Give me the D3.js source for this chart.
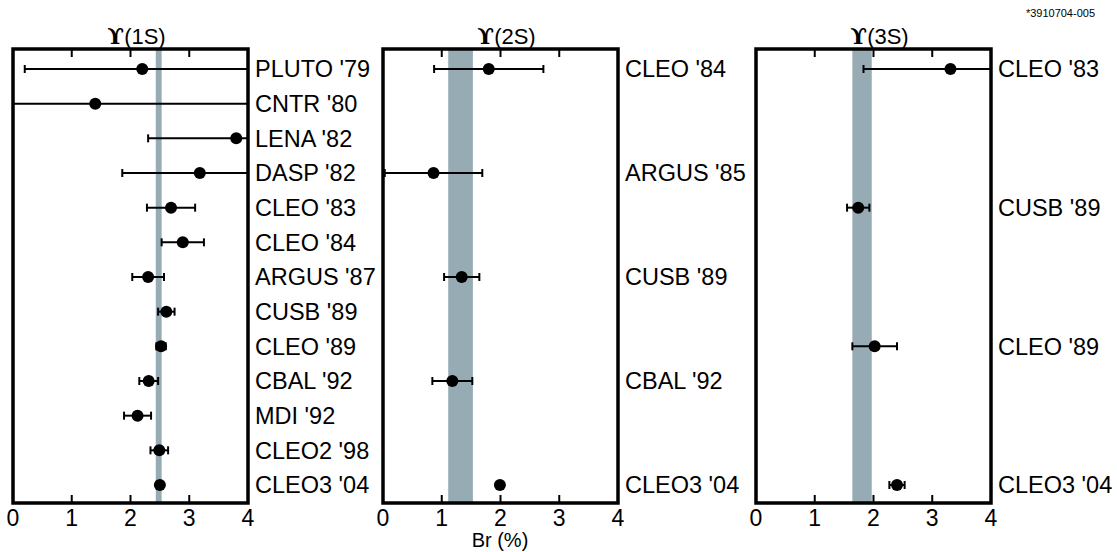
<!DOCTYPE html>
<html>
<head>
<meta charset="utf-8">
<script src="https://cdn.jsdelivr.net/npm/d3@7"></script>
<style>
  body { margin: 0; background: #fff; }
  text { font-family: "Liberation Sans", Arial, sans-serif; }
</style>
</head>
<body>
<div id="chart"></div>
<script>
// panel titles and the world-average bands (Br in %)
var titles = ["(1S)", "(2S)", "(3S)"];
var bandLow = [2.43, 1.11, 1.64];
var bandHigh = [2.53, 1.53, 1.97];
var xTicks = [0, 1, 2, 3, 4];

// Y(1S) measurements
var labels1S = ["PLUTO '79", "CNTR '80", "LENA '82", "DASP '82", "CLEO '83", "CLEO '84", "ARGUS '87",
                "CUSB '89", "CLEO '89", "CBAL '92", "MDI '92", "CLEO2 '98", "CLEO3 '04"];
var rows1S = [0, 1, 2, 3, 4, 5, 6, 7, 8, 9, 10, 11, 12];
var values1S = [2.2, 1.4, 3.8, 3.18, 2.69, 2.89, 2.3, 2.61, 2.52, 2.31, 2.12, 2.49, 2.5];
var errors1S = [2.0, 3.0, 1.5, 1.32, 0.41, 0.36, 0.27, 0.14, 0.08, 0.16, 0.23, 0.15, 0.04];

// Y(2S) measurements
var labels2S = ["CLEO '84", "ARGUS '85", "CUSB '89", "CBAL '92", "CLEO3 '04"];
var rows2S = [0, 3, 6, 9, 12];
var values2S = [1.8, 0.86, 1.34, 1.18, 1.99];
var errors2S = [0.93, 0.83, 0.3, 0.34, 0.03];

// Y(3S) measurements
var labels3S = ["CLEO '83", "CUSB '89", "CLEO '89", "CLEO3 '04"];
var rows3S = [0, 4, 8, 12];
var values3S = [3.31, 1.74, 2.02, 2.4];
var errors3S = [1.48, 0.19, 0.38, 0.13];

var width = 1117, height = 552;
var panelLeft = [13, 383, 756], panelW = 235;
var frameTop = 49, frameBottom = 503;

var svg = d3.select("#chart").append("svg")
    .attr("width", width)
    .attr("height", height);

var y = d3.scalePoint()
    .domain(d3.range(13))
    .range([69, 485]);

var sets = [
  {labels: labels1S, rows: rows1S, values: values1S, errors: errors1S},
  {labels: labels2S, rows: rows2S, values: values2S, errors: errors2S},
  {labels: labels3S, rows: rows3S, values: values3S, errors: errors3S}
];

sets.forEach(function(s, p){
  var x = d3.scaleLinear().domain([0, 4]).range([panelLeft[p], panelLeft[p] + panelW]);
  var g = svg.append("g");

  g.append("clipPath").attr("id", "clip" + p)
    .append("rect")
      .attr("x", x(0)).attr("y", frameTop)
      .attr("width", panelW).attr("height", frameBottom - frameTop);

  var inner = g.append("g").attr("clip-path", "url(#clip" + p + ")");

  // average band
  inner.append("rect")
    .attr("x", x(bandLow[p]))
    .attr("y", frameTop)
    .attr("width", x(bandHigh[p]) - x(bandLow[p]))
    .attr("height", frameBottom - frameTop)
    .attr("fill", "#96abb3");

  var pts = s.values.map(function(v, i){
    return {label: s.labels[i], row: s.rows[i], v: v, e: s.errors[i]};
  });

  // error bars
  inner.append("g").selectAll("line").data(pts).join("line")
    .attr("x1", d => x(d.v - d.e)).attr("x2", d => x(d.v + d.e))
    .attr("y1", d => y(d.row)).attr("y2", d => y(d.row))
    .attr("stroke", "#000").attr("stroke-width", 2);

  // caps
  inner.append("g").selectAll("line").data(pts).join("line")
    .attr("x1", d => x(d.v - d.e)).attr("x2", d => x(d.v - d.e))
    .attr("y1", d => y(d.row) - 4).attr("y2", d => y(d.row) + 4)
    .attr("stroke", "#000").attr("stroke-width", 2);
  inner.append("g").selectAll("line").data(pts).join("line")
    .attr("x1", d => x(d.v + d.e)).attr("x2", d => x(d.v + d.e))
    .attr("y1", d => y(d.row) - 4).attr("y2", d => y(d.row) + 4)
    .attr("stroke", "#000").attr("stroke-width", 2);

  inner.append("g").selectAll("circle").data(pts).join("circle")
    .attr("cx", d => x(d.v)).attr("cy", d => y(d.row))
    .attr("r", 6).attr("fill", "#000");

  // ticks, bottom and top, pointing inward
  g.append("g").selectAll("line").data(xTicks.slice(1, 4)).join("line")
    .attr("x1", d => x(d)).attr("x2", d => x(d))
    .attr("y1", frameBottom).attr("y2", frameBottom - 8)
    .attr("stroke", "#000").attr("stroke-width", 2);
  g.append("g").selectAll("line").data(xTicks.slice(1, 4)).join("line")
    .attr("x1", d => x(d)).attr("x2", d => x(d))
    .attr("y1", frameTop).attr("y2", frameTop + 8)
    .attr("stroke", "#000").attr("stroke-width", 2);

  // frame
  g.append("rect")
    .attr("x", x(0)).attr("y", frameTop)
    .attr("width", panelW).attr("height", frameBottom - frameTop)
    .attr("fill", "none").attr("stroke", "#000").attr("stroke-width", 3.5);

  // tick labels
  g.append("g").selectAll("text").data(xTicks).join("text")
    .attr("x", d => x(d)).attr("y", 526)
    .attr("text-anchor", "middle")
    .attr("font-size", 23)
    .text(d => d);

  // experiment labels
  g.append("g").selectAll("text").data(pts).join("text")
    .attr("x", x(4) + 7).attr("y", d => y(d.row))
    .attr("dy", "0.36em")
    .attr("font-size", 23.5)
    .text(d => d.label);

  // title
  var t = g.append("text")
    .attr("x", (x(0) + x(4)) / 2 + 6).attr("y", 44)
    .attr("text-anchor", "middle")
    .attr("font-size", 22);
  t.append("tspan").attr("font-family", "DejaVu Serif").attr("font-weight", "bold").text("\u03D2");
  t.append("tspan").text(titles[p]);
});

svg.append("text")
  .attr("x", 500).attr("y", 547)
  .attr("text-anchor", "middle")
  .attr("font-size", 20)
  .text("Br (%)");

svg.append("text")
  .attr("x", 1095).attr("y", 17)
  .attr("text-anchor", "end")
  .attr("font-size", 11)
  .text("*3910704-005");
</script>
</body>
</html>
